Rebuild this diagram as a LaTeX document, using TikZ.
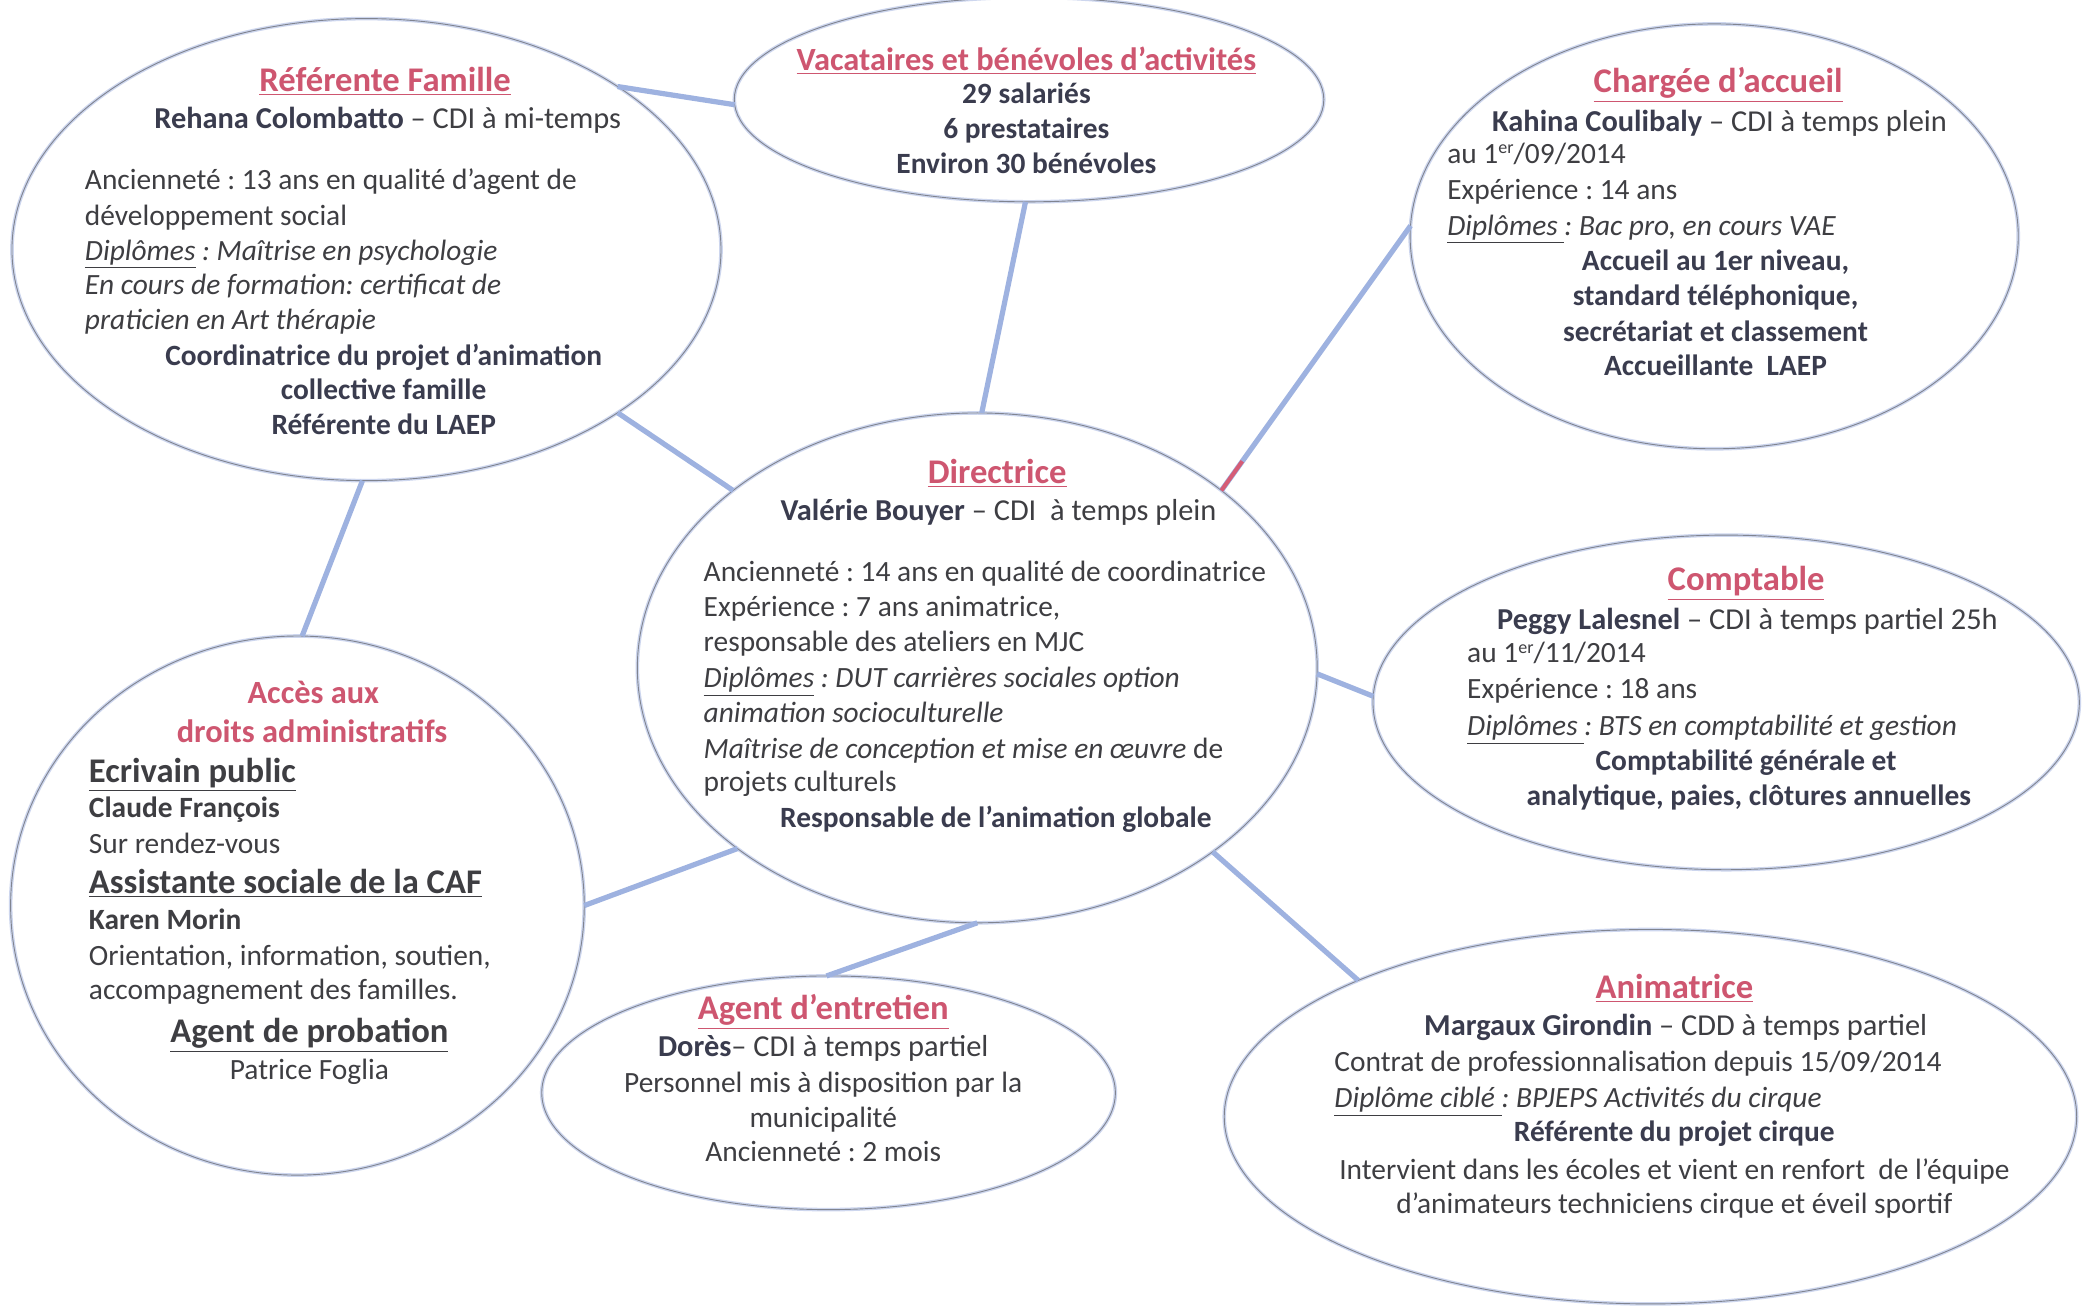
\documentclass[tikz,border=0pt]{standalone}
\usepackage{fontspec}
\setmainfont{Carlito}
\usetikzlibrary{shapes.geometric,calc}
\frenchspacing
\definecolor{pinkc}{RGB}{206,86,112}
\definecolor{txt}{RGB}{62,62,66}
\definecolor{bld}{RGB}{58,60,78}
\definecolor{halo}{RGB}{205,214,238}
\definecolor{edgec}{RGB}{128,132,144}
\definecolor{conn}{RGB}{158,178,224}
\definecolor{redseg}{RGB}{214,92,118}
\newcommand{\bb}[1]{\textcolor{bld}{\textbf{#1}}}
\newcommand{\dip}[1]{\textit{\underline{#1}}}
\newcommand{\supr}[1]{\raisebox{0.32em}{\fontsize{9}{9}\selectfont #1}}
\tikzset{
  bubble/.style={ellipse, inner sep=0pt, outer sep=0pt, draw=halo, line width=1.8pt,
    postaction={draw=edgec, line width=0.45pt}},
  conline/.style={draw=conn, line width=2.6pt},
  tl/.style={inner sep=0pt, outer sep=0pt, text=txt, font=\fontsize{14.7}{17}\selectfont},
  nm/.style={tl, font=\fontsize{15.2}{17}\selectfont},
  ttl/.style={inner sep=0pt, outer sep=0pt, text=pinkc, font=\bfseries\fontsize{17.3}{20}\selectfont},
  sttl/.style={ttl, font=\bfseries\fontsize{16.2}{20}\selectfont},
  bl/.style={tl, text=bld, font=\bfseries\fontsize{14.7}{17}\selectfont},
  hd/.style={tl, text=txt, font=\bfseries\fontsize{17.3}{20}\selectfont},
}
\begin{document}
\begin{tikzpicture}[x=0.6639pt, y=-0.6639pt]
\useasboundingbox (0,0) rectangle (1568,984);
\fill[white] (0,0) rectangle (1568,984);

% bubbles
\node[bubble, minimum width=534*0.6639pt, minimum height=348*0.6639pt] (rf) at (276,188) {};
\node[bubble, minimum width=444*0.6639pt, minimum height=154*0.6639pt] (vac) at (775,75) {};
\node[bubble, minimum width=458*0.6639pt, minimum height=320*0.6639pt] (ca) at (1291,178) {};
\node[bubble, minimum width=512*0.6639pt, minimum height=384*0.6639pt] (dir) at (736,503) {};
\node[bubble, minimum width=532*0.6639pt, minimum height=252*0.6639pt] (cpt) at (1300,529) {};
\node[bubble, minimum width=432*0.6639pt, minimum height=406*0.6639pt] (acc) at (224,682) {};
\node[bubble, minimum width=432*0.6639pt, minimum height=176*0.6639pt] (ae) at (624,823) {};
\node[bubble, minimum width=642*0.6639pt, minimum height=282*0.6639pt] (an) at (1243,841) {};

% connectors
\draw[conline] (rf.33) -- (vac.181);
\draw[conline] (rf.-33) -- (dir.144);
\draw[conline] (rf.-91) -- (acc.89);
\draw[conline] (vac.-92) -- (dir.89);
\draw[conline] (ca.178) -- (dir.36);
\draw[draw=redseg, line width=2pt] (dir.36) -- ($(dir.36)!18pt!(ca.178)$);
\draw[conline] (dir.-1.6) -- (cpt.179);
\draw[conline] (acc.0) -- (dir.-143);
\draw[conline] (ae.91) -- (dir.-90);
\draw[conline] (dir.-38) -- (an.155.5);

% Referente Famille
\node[ttl, anchor=base] (rft) at (290,69) {\underline{Référente Famille}};
\node[nm, anchor=base] (rf1) at (292,97) {\bb{Rehana Colombatto} – CDI à mi-temps};
\node[tl, anchor=base west] (rf2) at (64,143) {Ancienneté : 13 ans en qualité d’agent de};
\node[tl, anchor=base west] (rf3) at (64,170) {développement social};
\node[tl, anchor=base west] (rf4) at (64,196) {\dip{Diplômes} \textit{: Maîtrise en psychologie}};
\node[tl, anchor=base west] (rf5) at (64,222) {\textit{En cours de formation: certificat de}};
\node[tl, anchor=base west] (rf6) at (64,248) {\textit{praticien en Art thérapie}};
\node[bl, anchor=base] (rf7) at (289,275) {Coordinatrice du projet d’animation};
\node[bl, anchor=base] (rf8) at (289,301) {collective famille};
\node[bl, anchor=base] (rf9) at (289,327) {Référente du LAEP};

% Vacataires
\node[sttl, anchor=base] (vt) at (773,53) {\underline{Vacataires et bénévoles d’activités}};
\node[bl, anchor=base] (v1) at (773,78) {29 salariés};
\node[bl, anchor=base] (v2) at (773,104) {6 prestataires};
\node[bl, anchor=base] (v3) at (773,131) {Environ 30 bénévoles};

% Chargee d'accueil
\node[ttl, anchor=base] (cat) at (1294,70) {\underline{Chargée d’accueil}};
\node[nm, anchor=base] (ca1) at (1295,99) {\bb{Kahina Coulibaly} – CDI à temps plein};
\node[tl, anchor=base west] (ca2) at (1090,123) {au 1\supr{er}/09/2014};
\node[tl, anchor=base west] (ca3) at (1090,150) {Expérience : 14 ans};
\node[tl, anchor=base west] (ca4) at (1090,177) {\dip{Diplômes }\textit{: Bac pro, en cours VAE}};
\node[bl, anchor=base] (ca5) at (1292,204) {Accueil au 1er niveau,};
\node[bl, anchor=base] (ca6) at (1292,230) {standard téléphonique,};
\node[bl, anchor=base] (ca7) at (1292,257) {secrétariat et classement};
\node[bl, anchor=base] (ca8) at (1292,283) {Accueillante\ \ LAEP};

% Directrice
\node[ttl, anchor=base] (dt) at (751,364) {\underline{Directrice}};
\node[nm, anchor=base] (d1) at (752,392) {\bb{Valérie Bouyer} – CDI\ \ à temps plein};
\node[tl, anchor=base west] (d2) at (530,438) {Ancienneté : 14 ans en qualité de coordinatrice};
\node[tl, anchor=base west] (d3) at (530,464) {Expérience : 7 ans animatrice,};
\node[tl, anchor=base west] (d4) at (530,491) {responsable des ateliers en MJC};
\node[tl, anchor=base west] (d5) at (530,518) {\dip{Diplômes} \textit{: DUT carrières sociales option}};
\node[tl, anchor=base west] (d6) at (530,544) {\textit{animation socioculturelle}};
\node[tl, anchor=base west] (d7) at (530,571) {\textit{Maîtrise de conception et mise en œuvre} de};
\node[tl, anchor=base west] (d8) at (530,596) {projets culturels};
\node[bl, anchor=base] (d9) at (750,623) {Responsable de l’animation globale};

% Comptable
\node[ttl, anchor=base] (ct) at (1315,445) {\underline{Comptable}};
\node[nm, anchor=base] (c1) at (1316,474) {\bb{Peggy Lalesnel} – CDI à temps partiel 25h};
\node[tl, anchor=base west] (c2) at (1105,499) {au 1\supr{er}/11/2014};
\node[tl, anchor=base west] (c3) at (1105,526) {Expérience : 18 ans};
\node[tl, anchor=base west] (c4) at (1105,554) {\dip{Diplômes }\textit{: BTS en comptabilité et gestion}};
\node[bl, anchor=base] (c5) at (1315,580) {Comptabilité générale et};
\node[bl, anchor=base] (c6) at (1317,607) {analytique, paies, clôtures annuelles};

% Acces aux droits
\node[sttl, anchor=base] (at1) at (236,530) {Accès aux};
\node[sttl, anchor=base] (at2) at (235,559) {droits administratifs};
\node[hd, anchor=base west] (a1) at (67,589) {\underline{Ecrivain public}};
\node[tl, anchor=base west] (a2) at (67,616) {\textbf{Claude François}};
\node[tl, anchor=base west] (a3) at (67,643) {Sur rendez-vous};
\node[hd, anchor=base west] (a4) at (67,673) {\underline{Assistante sociale de la CAF}};
\node[tl, anchor=base west] (a5) at (67,700) {\textbf{Karen Morin}};
\node[tl, anchor=base west] (a6) at (67,727) {Orientation, information, soutien,};
\node[tl, anchor=base west] (a7) at (67,753) {accompagnement des familles.};
\node[hd, anchor=base] (a8) at (233,785) {\underline{Agent de probation}};
\node[tl, anchor=base] (a9) at (233,813) {Patrice Foglia};

% Agent d'entretien
\node[ttl, anchor=base] (et) at (620,768) {\underline{Agent d’entretien}};
\node[nm, anchor=base] (e1) at (620,796) {\bb{Dorès}– CDI à temps partiel};
\node[tl, anchor=base] (e2) at (620,823) {Personnel mis à disposition par la};
\node[tl, anchor=base] (e3) at (620,849) {municipalité};
\node[tl, anchor=base] (e4) at (620,875) {Ancienneté : 2 mois};

% Animatrice
\node[ttl, anchor=base] (nt) at (1261,752) {\underline{Animatrice}};
\node[nm, anchor=base] (n1) at (1262,780) {\bb{Margaux Girondin} – CDD à temps partiel};
\node[tl, anchor=base west] (n2) at (1005,807) {Contrat de professionnalisation depuis 15/09/2014};
\node[tl, anchor=base west] (n3) at (1005,834) {\dip{Diplôme ciblé }\textit{: BPJEPS Activités du cirque}};
\node[bl, anchor=base] (n4) at (1261,860) {Référente du projet cirque};
\node[tl, anchor=base] (n5) at (1261,888) {Intervient dans les écoles et vient en renfort\ \ de l’équipe};
\node[tl, anchor=base] (n6) at (1261,914) {d’animateurs techniciens cirque et éveil sportif};
\end{tikzpicture}
\end{document}
